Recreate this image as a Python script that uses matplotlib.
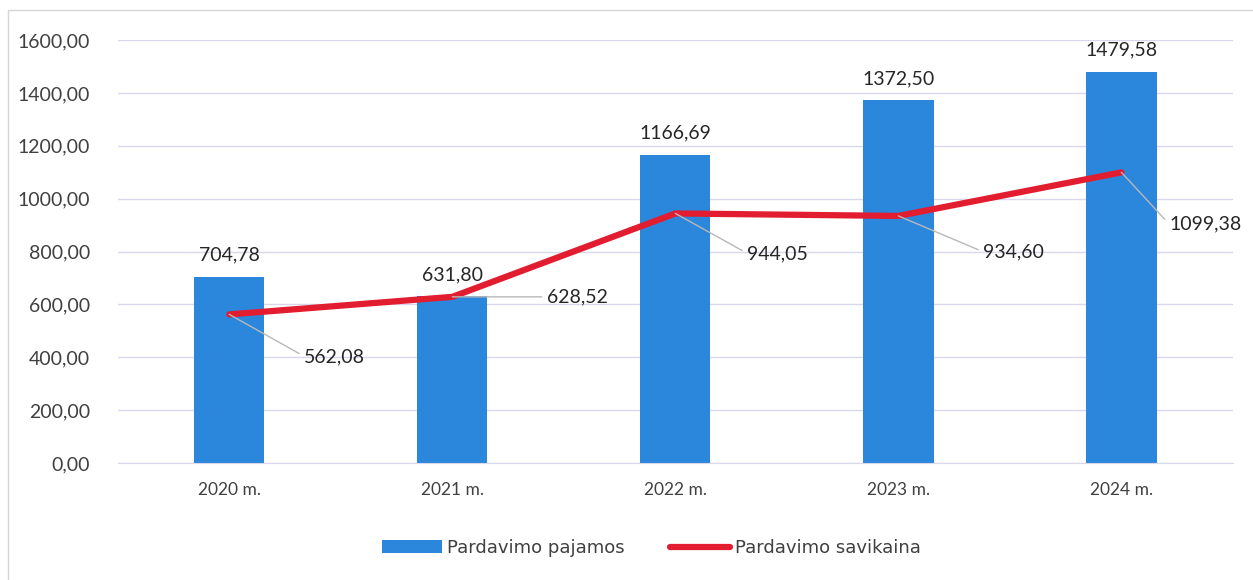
import matplotlib.pyplot as plt
from matplotlib.patches import Rectangle
import numpy as np

# duomenys
metai = ['2020 m.', '2021 m.', '2022 m.', '2023 m.', '2024 m.']
pajamos = [704.78, 631.80, 1166.69, 1372.50, 1479.58]
savikaina = [562.08, 628.52, 944.05, 934.60, 1099.38]
y_ticks = [0, 200, 400, 600, 800, 1000, 1200, 1400, 1600]

# kur dedami savikainos etikečių tekstai (pikseliais nuo taško)
etik_poslinkiai = [(75, -42), (95, 0), (72, -40), (85, -36), (48, -52)]

plt.rcParams['font.family'] = ['Lato', 'DejaVu Sans']

def lt(v):
    return f'{v:.2f}'.replace('.', ',')

fig = plt.figure(figsize=(12.53, 5.8), dpi=100)
ax = fig.add_axes([0.094, 0.2017, 0.89, 0.7293])

# rėmelis aplink diagramą
fig.patches.append(Rectangle((8 / 1253, -0.1), 1.2, 1 - 10 / 580 + 0.1,
                             transform=fig.transFigure, fill=False,
                             edgecolor='#d6d6d6', linewidth=1))

x = np.arange(len(metai))
stulp = ax.bar(x, pajamos, width=0.315, color='#2b87dc', label='Pardavimo pajamos', zorder=2)
linija, = ax.plot(x, savikaina, color='#e31d30', linewidth=4.5, solid_capstyle='round',
                  label='Pardavimo savikaina', zorder=3)

for xi, v in zip(x, pajamos):
    ax.annotate(lt(v), (xi, v), xytext=(0, 13), textcoords='offset pixels',
                ha='center', va='bottom', fontsize=14, color='#262626')

for xi, v, (dx, dy) in zip(x, savikaina, etik_poslinkiai):
    ax.annotate(lt(v), (xi, v), xytext=(dx, dy), textcoords='offset pixels',
                ha='left', va='center', fontsize=14, color='#262626',
                arrowprops=dict(arrowstyle='-', color='#b8b8b8', lw=1,
                                shrinkA=2, shrinkB=0, relpos=(0, 0.5)),
                zorder=4)

ax.set_xlim(-0.5, len(metai) - 0.5)
ax.set_ylim(0, 1600)
ax.set_yticks(y_ticks)
ax.set_yticklabels([lt(t) for t in y_ticks])
ax.set_xticks(x)
ax.set_xticklabels(metai)
ax.tick_params(axis='y', length=0, pad=20, labelsize=14, labelcolor='#404040')
ax.tick_params(axis='x', length=0, pad=14, labelsize=12.5, labelcolor='#404040')
ax.grid(axis='y', color='#d8d8ec', linewidth=1, zorder=0)
ax.set_axisbelow(True)
for s in ['top', 'right', 'left']:
    ax.spines[s].set_visible(False)
ax.spines['bottom'].set_color('#d8d8ec')

fig.legend(handles=[stulp, linija], loc='center', bbox_to_anchor=(0.52, 1 - 548 / 580),
           ncol=2, frameon=False, handlelength=3.3, handletextpad=0.3,
           columnspacing=2.5, labelcolor='#404040',
           prop={'family': ['Liberation Sans Narrow', 'DejaVu Sans'], 'size': 13})

fig.savefig('out.png', dpi=100)
